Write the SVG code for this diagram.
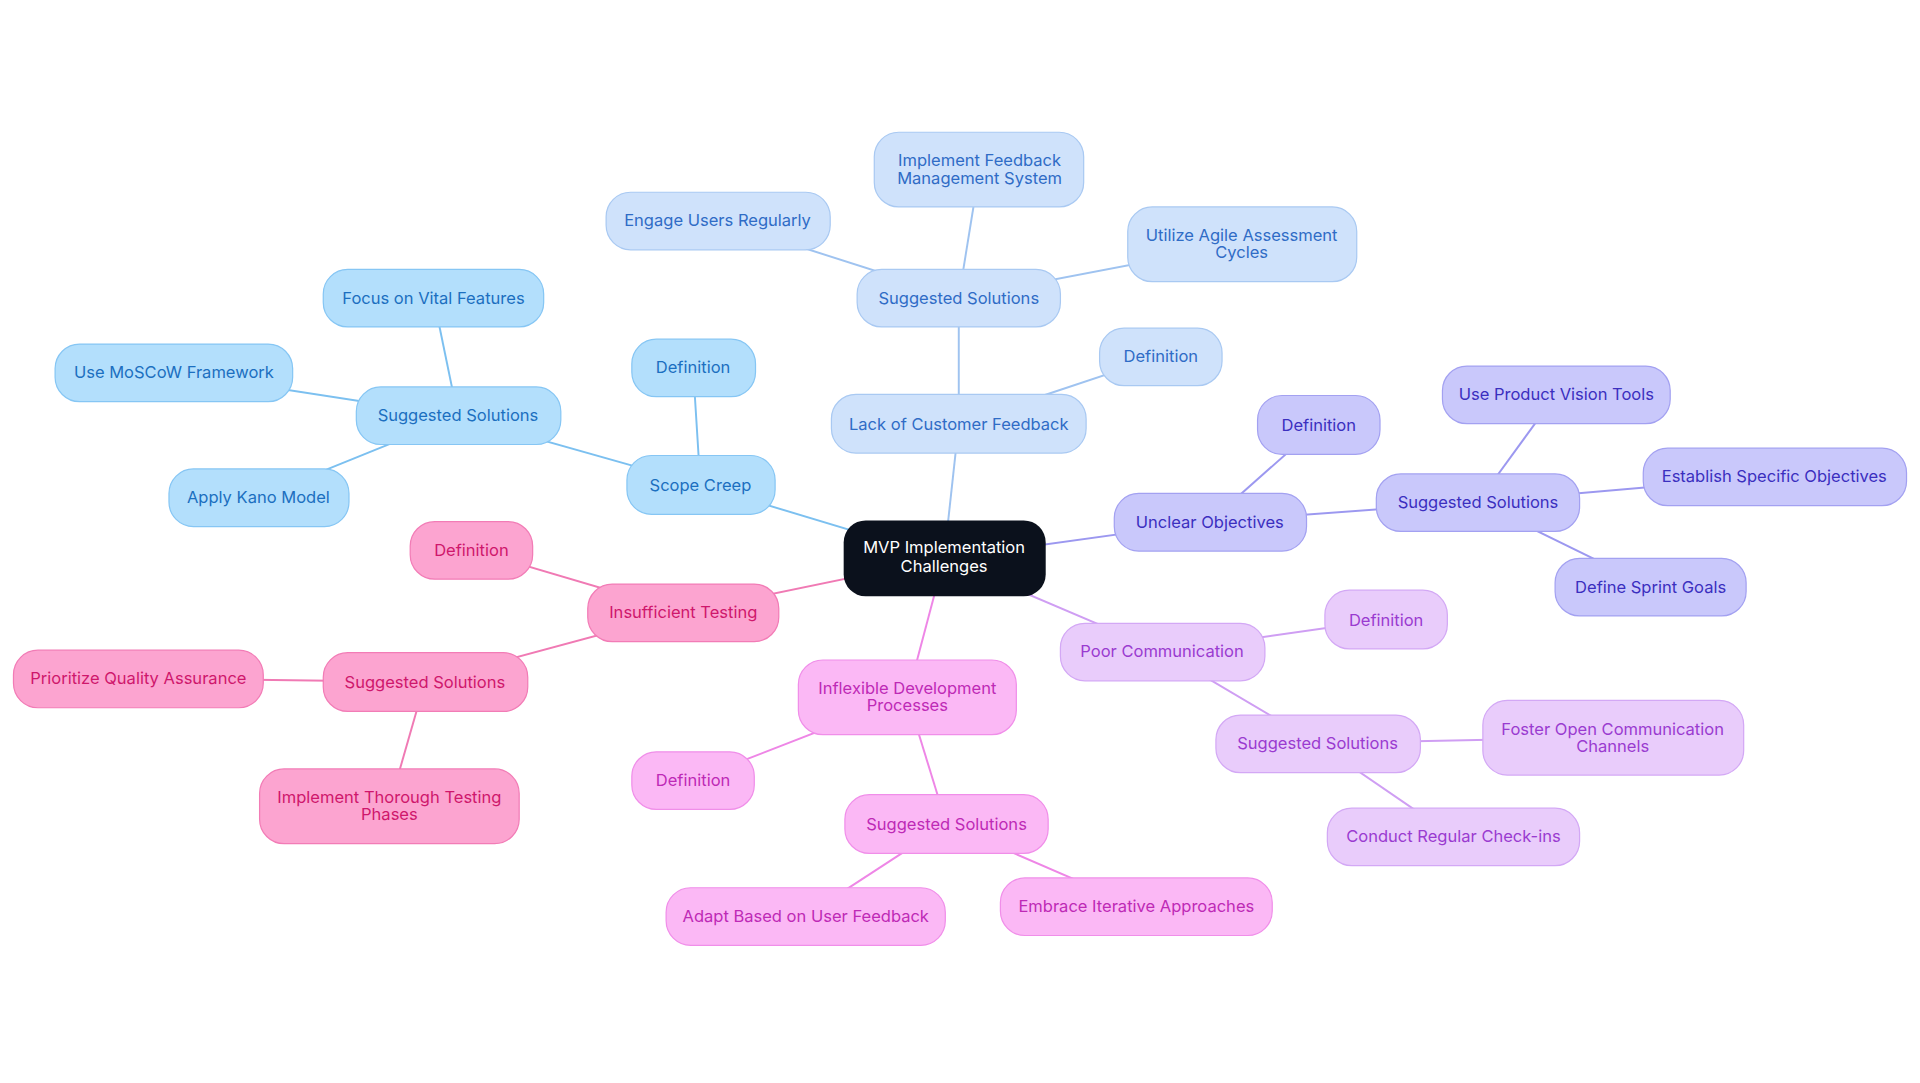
<svg xmlns="http://www.w3.org/2000/svg" width="1920" height="1083" viewBox="0 0 1920 1083">
<style>
text{font-family:Inter,"Liberation Sans",sans-serif;font-size:13.5px;text-anchor:middle;dominant-baseline:central}
.e{stroke-width:1.6;fill:none}
.b rect{fill:#b3dffc;stroke:#86c6f4}.b text{fill:#1c6fc0}
.l rect{fill:#cfe2fb;stroke:#a9c9f2}.l text{fill:#2f6cc6}
.u rect{fill:#c9c8fb;stroke:#a3a1f1}.u text{fill:#3b2fbf}
.p rect{fill:#e9ccfb;stroke:#d3a8f5}.p text{fill:#9a3bd0}
.i rect{fill:#fbb8f5;stroke:#f08ee9}.i text{fill:#be2ab6}
.t rect{fill:#fca4d0;stroke:#f27cb6}.t text{fill:#cf176c}
</style>
<rect width="1920" height="1083" fill="#fff"/>
<g transform="scale(1.22449)">
<g id="connectors">
<g class="e" stroke="#7cc0f0"><line x1="771" y1="456" x2="572" y2="396"/><line x1="572" y1="396" x2="566" y2="300"/><line x1="572" y1="396" x2="374" y2="340"/><line x1="374" y1="340" x2="354" y2="243"/><line x1="374" y1="340" x2="142" y2="304"/><line x1="374" y1="340" x2="211" y2="406"/></g>
<g class="e" stroke="#9fc3f0"><line x1="771" y1="456" x2="783" y2="346"/><line x1="783" y1="346" x2="948" y2="291"/><line x1="783" y1="346" x2="783" y2="243"/><line x1="783" y1="243" x2="586" y2="180"/><line x1="783" y1="243" x2="800" y2="138"/><line x1="783" y1="243" x2="1014" y2="199"/></g>
<g class="e" stroke="#9c98f0"><line x1="771" y1="456" x2="988" y2="426"/><line x1="988" y1="426" x2="1077" y2="347"/><line x1="988" y1="426" x2="1207" y2="410"/><line x1="1207" y1="410" x2="1271" y2="322"/><line x1="1207" y1="410" x2="1449" y2="389"/><line x1="1207" y1="410" x2="1348" y2="479"/></g>
<g class="e" stroke="#cf9ef3"><line x1="771" y1="456" x2="949" y2="532"/><line x1="949" y1="532" x2="1132" y2="506"/><line x1="949" y1="532" x2="1076" y2="607"/><line x1="1076" y1="607" x2="1317" y2="602"/><line x1="1076" y1="607" x2="1187" y2="683"/></g>
<g class="e" stroke="#ee86e6"><line x1="771" y1="456" x2="741" y2="569"/><line x1="741" y1="569" x2="566" y2="637"/><line x1="741" y1="569" x2="773" y2="673"/><line x1="773" y1="673" x2="658" y2="748"/><line x1="773" y1="673" x2="928" y2="740"/></g>
<g class="e" stroke="#f07ab4"><line x1="771" y1="456" x2="558" y2="500"/><line x1="558" y1="500" x2="385" y2="449"/><line x1="558" y1="500" x2="347" y2="557"/><line x1="347" y1="557" x2="113" y2="554"/><line x1="347" y1="557" x2="318" y2="658"/></g>
</g>
<g id="center"><rect x="689" y="425" width="165" height="62" rx="18" fill="#0b111c"/><text x="771" y="447" fill="#fff">MVP Implementation</text><text x="771" y="462" fill="#fff">Challenges</text></g>
<g id="scope" class="b"><rect x="512" y="372" width="121" height="48" rx="20"/><text x="572" y="396">Scope Creep</text></g>
<g id="sc-def" class="b"><rect x="516" y="277" width="101" height="47" rx="20"/><text x="566" y="300">Definition</text></g>
<g id="sc-sol" class="b"><rect x="291" y="316" width="167" height="47" rx="20"/><text x="374" y="339">Suggested Solutions</text></g>
<g id="sc-1" class="b"><rect x="264" y="220" width="180" height="47" rx="20"/><text x="354" y="243">Focus on Vital Features</text></g>
<g id="sc-2" class="b"><rect x="45" y="281" width="194" height="47" rx="20"/><text x="142" y="304">Use MoSCoW Framework</text></g>
<g id="sc-3" class="b"><rect x="138" y="383" width="147" height="47" rx="20"/><text x="211" y="406">Apply Kano Model</text></g>
<g id="lcf" class="l"><rect x="679" y="322" width="208" height="48" rx="20"/><text x="783" y="346">Lack of Customer Feedback</text></g>
<g id="lcf-def" class="l"><rect x="898" y="268" width="100" height="47" rx="20"/><text x="948" y="291">Definition</text></g>
<g id="lcf-sol" class="l"><rect x="700" y="220" width="166" height="47" rx="20"/><text x="783" y="243">Suggested Solutions</text></g>
<g id="lcf-1" class="l"><rect x="495" y="157" width="183" height="47" rx="20"/><text x="586" y="180">Engage Users Regularly</text></g>
<g id="lcf-2" class="l"><rect x="714" y="108" width="171" height="61" rx="20"/><text x="800" y="131">Implement Feedback</text><text x="800" y="145">Management System</text></g>
<g id="lcf-3" class="l"><rect x="921" y="169" width="187" height="61" rx="20"/><text x="1014" y="192">Utilize Agile Assessment</text><text x="1014" y="206">Cycles</text></g>
<g id="uo" class="u"><rect x="910" y="403" width="157" height="47" rx="20"/><text x="988" y="426">Unclear Objectives</text></g>
<g id="uo-def" class="u"><rect x="1027" y="323" width="100" height="48" rx="20"/><text x="1077" y="347">Definition</text></g>
<g id="uo-sol" class="u"><rect x="1124" y="387" width="166" height="47" rx="20"/><text x="1207" y="410">Suggested Solutions</text></g>
<g id="uo-1" class="u"><rect x="1178" y="299" width="186" height="47" rx="20"/><text x="1271" y="322">Use Product Vision Tools</text></g>
<g id="uo-2" class="u"><rect x="1342" y="366" width="215" height="47" rx="20"/><text x="1449" y="389">Establish Specific Objectives</text></g>
<g id="uo-3" class="u"><rect x="1270" y="456" width="156" height="47" rx="20"/><text x="1348" y="479">Define Sprint Goals</text></g>
<g id="pc" class="p"><rect x="866" y="509" width="167" height="47" rx="20"/><text x="949" y="532">Poor Communication</text></g>
<g id="pc-def" class="p"><rect x="1082" y="482" width="100" height="48" rx="20"/><text x="1132" y="506">Definition</text></g>
<g id="pc-sol" class="p"><rect x="993" y="584" width="167" height="47" rx="20"/><text x="1076" y="607">Suggested Solutions</text></g>
<g id="pc-1" class="p"><rect x="1211" y="572" width="213" height="61" rx="20"/><text x="1317" y="595">Foster Open Communication</text><text x="1317" y="609">Channels</text></g>
<g id="pc-2" class="p"><rect x="1084" y="660" width="206" height="47" rx="20"/><text x="1187" y="683">Conduct Regular Check-ins</text></g>
<g id="idp" class="i"><rect x="652" y="539" width="178" height="61" rx="20"/><text x="741" y="562">Inflexible Development</text><text x="741" y="576">Processes</text></g>
<g id="idp-def" class="i"><rect x="516" y="614" width="100" height="47" rx="20"/><text x="566" y="637">Definition</text></g>
<g id="idp-sol" class="i"><rect x="690" y="649" width="166" height="48" rx="20"/><text x="773" y="673">Suggested Solutions</text></g>
<g id="idp-1" class="i"><rect x="544" y="725" width="228" height="47" rx="20"/><text x="658" y="748">Adapt Based on User Feedback</text></g>
<g id="idp-2" class="i"><rect x="817" y="717" width="222" height="47" rx="20"/><text x="928" y="740">Embrace Iterative Approaches</text></g>
<g id="it" class="t"><rect x="480" y="477" width="156" height="47" rx="20"/><text x="558" y="500">Insufficient Testing</text></g>
<g id="it-def" class="t"><rect x="335" y="426" width="100" height="47" rx="20"/><text x="385" y="449">Definition</text></g>
<g id="it-sol" class="t"><rect x="264" y="533" width="167" height="48" rx="20"/><text x="347" y="557">Suggested Solutions</text></g>
<g id="it-1" class="t"><rect x="11" y="531" width="204" height="47" rx="20"/><text x="113" y="554">Prioritize Quality Assurance</text></g>
<g id="it-2" class="t"><rect x="212" y="628" width="212" height="61" rx="20"/><text x="318" y="651">Implement Thorough Testing</text><text x="318" y="665">Phases</text></g>
</g>
</svg>
